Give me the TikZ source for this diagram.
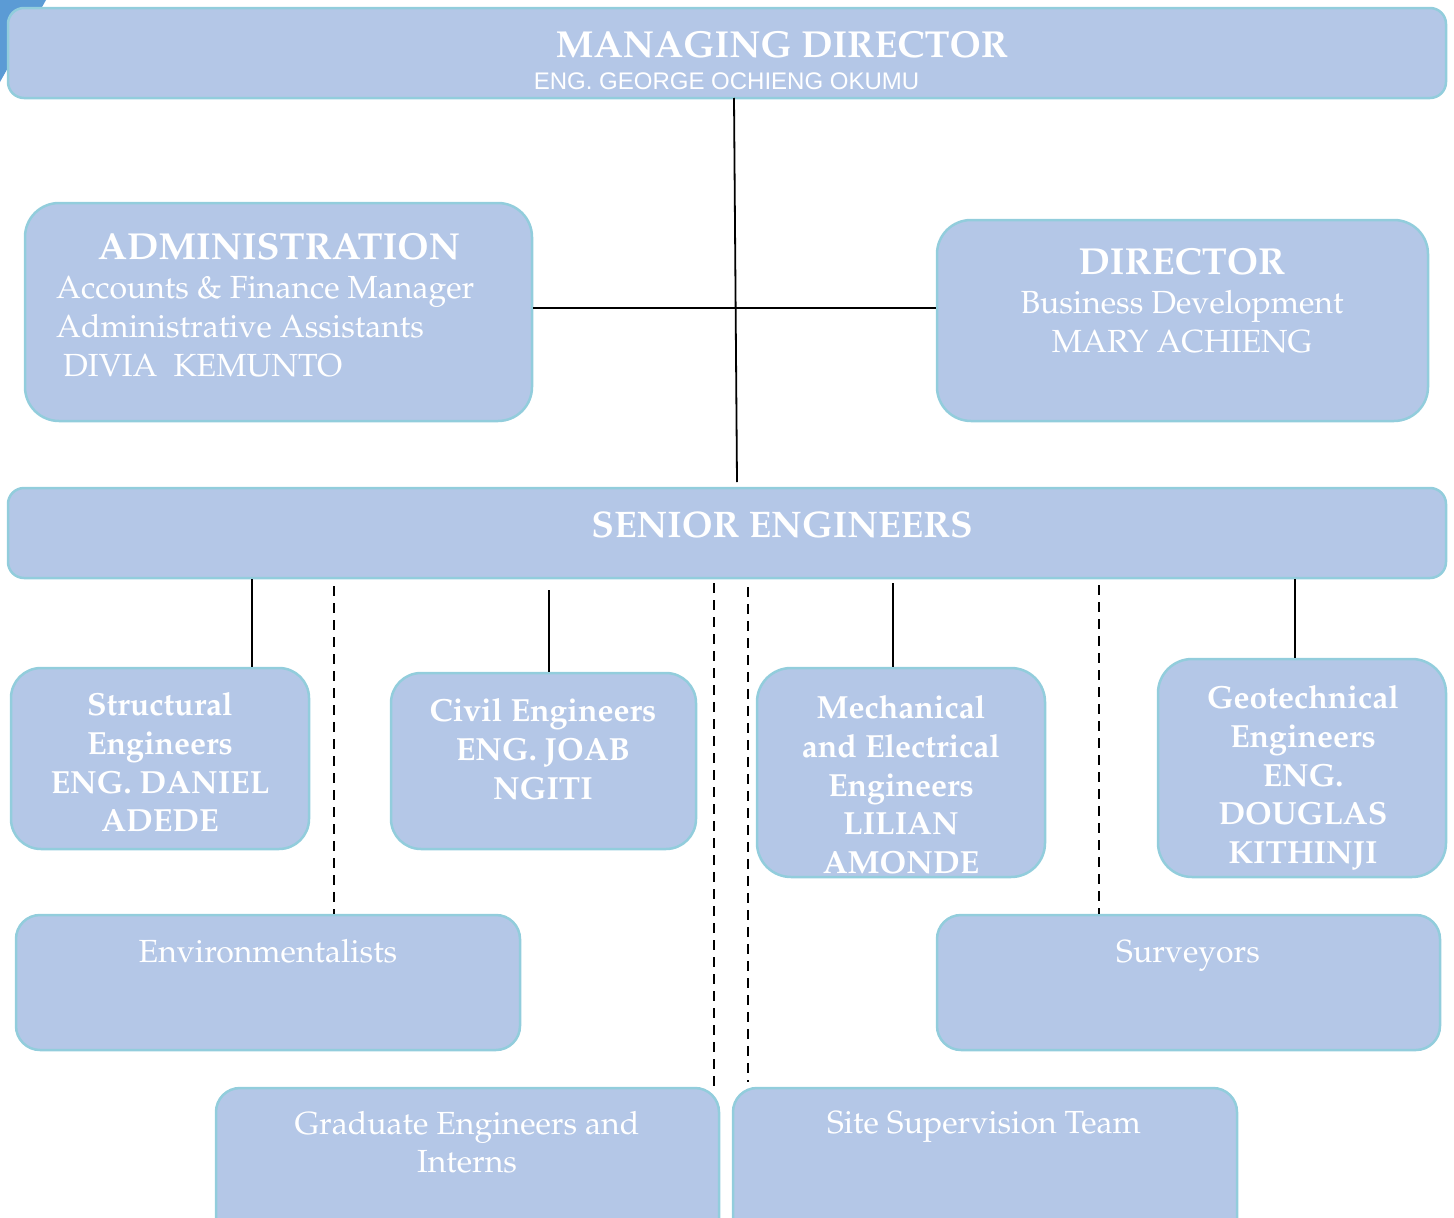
\documentclass[tikz,border=0pt]{standalone}
\usepackage{fontspec}
\newfontfamily\arialf{Liberation Sans}
\usepackage[T1,TU]{fontenc}
\newcommand\palf{\fontencoding{T1}\fontfamily{ppl}\selectfont}
\definecolor{boxfill}{HTML}{B4C7E7}
\definecolor{boxline}{HTML}{92CDDC}
\definecolor{triblue}{HTML}{5B9BD5}
\tikzset{
  box/.style={draw=boxline, fill=boxfill, line width=2.5pt, inner sep=0pt, rounded corners=#1},
  box/.default=30pt,
  txt/.style={text=white, inner sep=0pt, align=center, anchor=north},
  conn/.style={draw=black, line width=1.8pt},
  dconn/.style={draw=black, line width=2pt, dash pattern=on 10pt off 7pt},
  fbig/.style={font=\palf\bfseries\fontsize{37.6}{46}\selectfont},
  fmid/.style={font=\palf\fontsize{32}{39}\selectfont},
  fbold/.style={font=\palf\bfseries\fontsize{32}{38.6}\selectfont},
  freg/.style={font=\palf\fontsize{32}{37.5}\selectfont}
}
\begin{document}
\begin{tikzpicture}[x=1pt,y=-1pt]
\useasboundingbox (0,0) rectangle (1454,1218);
\clip (0,0) rectangle (1454,1218);
\fill[triblue] (0,0) -- (46,0) -- (0,82) -- cycle;
% boxes
\node[box=16pt, minimum width=1438pt, minimum height=90pt] (md) at (727,53) {};
\node[box=34pt, minimum width=507pt, minimum height=218pt] (admin) at (278.5,312) {};
\node[box=34pt, minimum width=491pt, minimum height=201pt] (dir) at (1182.5,320.5) {};
\node[box=16pt, minimum width=1438pt, minimum height=90pt] (senior) at (727,533) {};
\node[box=30pt, minimum width=298pt, minimum height=181pt] (struct) at (160,758.5) {};
\node[box=30pt, minimum width=305pt, minimum height=176pt] (civil) at (543.5,761) {};
\node[box=34pt, minimum width=288pt, minimum height=209pt] (mech) at (901,772.5) {};
\node[box=34pt, minimum width=288pt, minimum height=218pt] (geo) at (1302,768) {};
\node[box=24pt, minimum width=504pt, minimum height=135pt] (env) at (268,982.5) {};
\node[box=24pt, minimum width=503pt, minimum height=135pt] (surv) at (1188.5,982.5) {};
\node[box=24pt, minimum width=503pt, minimum height=162pt] (grad) at (467.5,1169) {};
\node[box=24pt, minimum width=504pt, minimum height=162pt] (site) at (985,1169) {};
% texts
\node[txt, fbig] (mdt) at (782,31) {MANAGING DIRECTOR};
\node[txt, font=\arialf\fontsize{24}{28}\selectfont] (mds) at (726.5,73) {ENG. GEORGE OCHIENG OKUMU};
\node[txt, fbig] (admt) at (279,233) {ADMINISTRATION};
\node[txt, fmid, anchor=north west, align=left] (adml) at (56,276) {Accounts \& Finance Manager\\Administrative Assistants\\\hspace*{7pt}DIVIA\ \ KEMUNTO};
\node[txt, fbig] (dirt) at (1182,248) {DIRECTOR};
\node[txt, fmid] (dirl) at (1182,290) {Business Development\\MARY ACHIENG};
\node[txt, font=\palf\bfseries\fontsize{37}{44}\selectfont] (sent) at (782,511.5) {SENIOR ENGINEERS};
\node[txt, fbold] (structt) at (160,692.6) {Structural\\Engineers\\ENG. DANIEL\\ADEDE};
\node[txt, fbold] (civilt) at (543,698.6) {Civil Engineers\\ENG. JOAB\\NGITI};
\node[txt, fbold] (mecht) at (901,695.6) {Mechanical\\and Electrical\\Engineers\\LILIAN\\AMONDE};
\node[txt, fbold] (geot) at (1303,685.6) {Geotechnical\\Engineers\\ENG.\\DOUGLAS\\KITHINJI};
\node[txt, freg] (envt) at (268,939) {Environmentalists};
\node[txt, freg] (survt) at (1188,940) {Surveyors};
\node[txt, freg] (gradt) at (467,1111.5) {Graduate Engineers and\\Interns};
\node[txt, freg] (sitet) at (984,1111.5) {Site Supervision Team};
% connectors
\coordinate (mdb) at (734,98);
\coordinate (sentop) at (737,482);
\draw[conn] (mdb) -- (sentop);
\draw[conn] (admin.east |- 0,308) -- (dir.west |- 0,308);
\draw[conn] (senior.south -| 252,0) -- (struct.north -| 252,0);
\coordinate (cv) at (549,590);
\draw[conn] (cv) -- (civil.north -| cv);
\coordinate (me) at (893,583);
\draw[conn] (me) -- (mech.north -| me);
\draw[conn, line width=2.8pt] (senior.south -| 1295,0) -- (geo.north -| 1295,0);
\coordinate (d1) at (334,586);
\draw[dconn] (d1) -- (env.north -| d1);
\coordinate (d2) at (714,583);
\draw[dconn] (d2) -- (grad.north -| d2);
\coordinate (d3) at (748,587);
\coordinate (d3e) at (748,1082);
\draw[dconn] (d3) -- (d3e);
\coordinate (d4) at (1099,585);
\draw[dconn] (d4) -- (surv.north -| d4);
\end{tikzpicture}
\end{document}
